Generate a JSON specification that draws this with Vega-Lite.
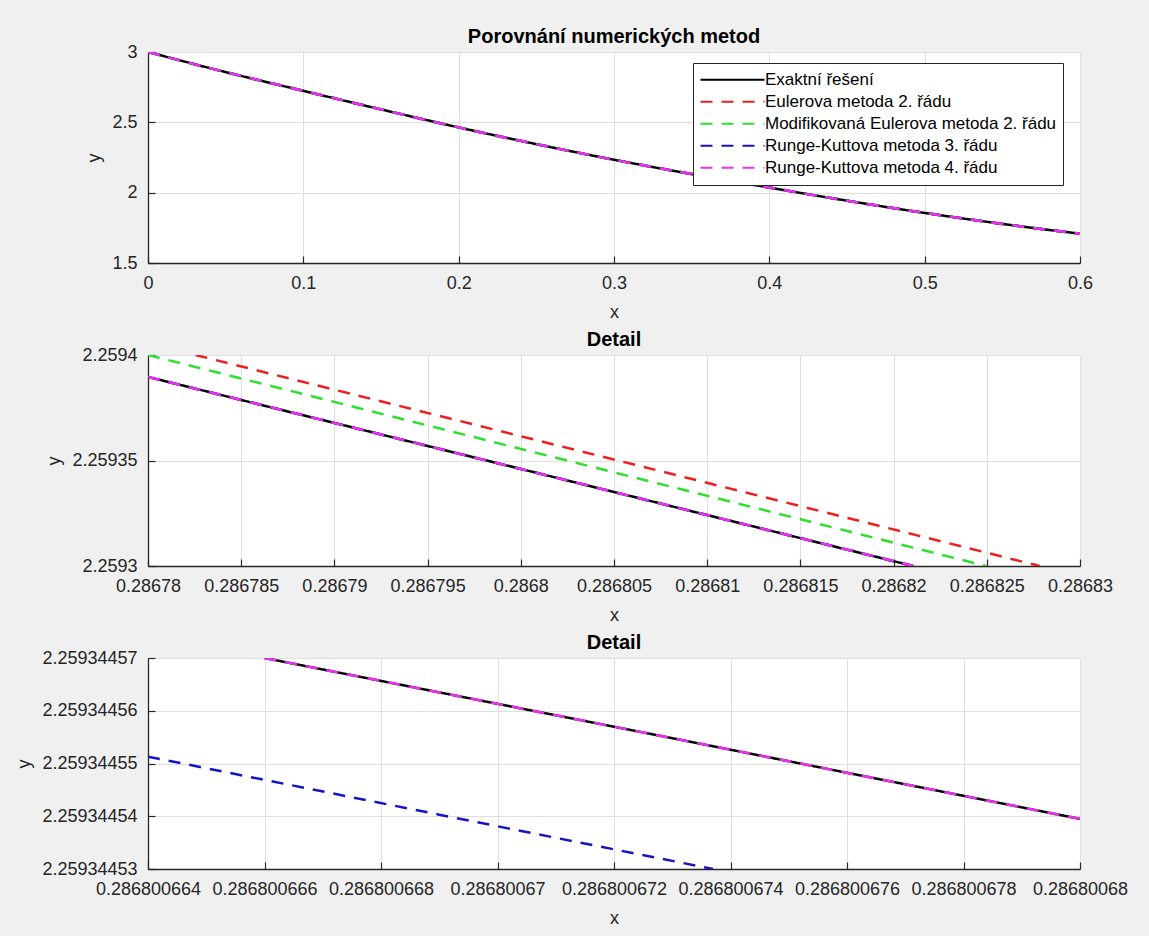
{
  "$schema": "https://vega.github.io/schema/vega-lite/v6.json",
  "background": "#f0f0f0",
  "padding": {"left": 15, "top": 27, "right": 25, "bottom": 14},
  "bounds": "flush",
  "spacing": 92,
  "datasets": {
    "p1": [
      {"x": 0, "y": 3.0, "metoda": "Exaktní řešení"},
      {"x": 0.05, "y": 2.857, "metoda": "Exaktní řešení"},
      {"x": 0.1, "y": 2.724, "metoda": "Exaktní řešení"},
      {"x": 0.15, "y": 2.592, "metoda": "Exaktní řešení"},
      {"x": 0.2, "y": 2.464, "metoda": "Exaktní řešení"},
      {"x": 0.25, "y": 2.345, "metoda": "Exaktní řešení"},
      {"x": 0.3, "y": 2.234, "metoda": "Exaktní řešení"},
      {"x": 0.35, "y": 2.132, "metoda": "Exaktní řešení"},
      {"x": 0.4, "y": 2.036, "metoda": "Exaktní řešení"},
      {"x": 0.45, "y": 1.943, "metoda": "Exaktní řešení"},
      {"x": 0.5, "y": 1.856, "metoda": "Exaktní řešení"},
      {"x": 0.55, "y": 1.778, "metoda": "Exaktní řešení"},
      {"x": 0.6, "y": 1.708, "metoda": "Exaktní řešení"},
      {"x": 0, "y": 3.0, "metoda": "Eulerova metoda 2. řádu"},
      {"x": 0.05, "y": 2.857, "metoda": "Eulerova metoda 2. řádu"},
      {"x": 0.1, "y": 2.724, "metoda": "Eulerova metoda 2. řádu"},
      {"x": 0.15, "y": 2.592, "metoda": "Eulerova metoda 2. řádu"},
      {"x": 0.2, "y": 2.464, "metoda": "Eulerova metoda 2. řádu"},
      {"x": 0.25, "y": 2.345, "metoda": "Eulerova metoda 2. řádu"},
      {"x": 0.3, "y": 2.234, "metoda": "Eulerova metoda 2. řádu"},
      {"x": 0.35, "y": 2.132, "metoda": "Eulerova metoda 2. řádu"},
      {"x": 0.4, "y": 2.036, "metoda": "Eulerova metoda 2. řádu"},
      {"x": 0.45, "y": 1.943, "metoda": "Eulerova metoda 2. řádu"},
      {"x": 0.5, "y": 1.856, "metoda": "Eulerova metoda 2. řádu"},
      {"x": 0.55, "y": 1.778, "metoda": "Eulerova metoda 2. řádu"},
      {"x": 0.6, "y": 1.708, "metoda": "Eulerova metoda 2. řádu"},
      {"x": 0, "y": 3.0, "metoda": "Modifikovaná Eulerova metoda 2. řádu"},
      {"x": 0.05, "y": 2.857, "metoda": "Modifikovaná Eulerova metoda 2. řádu"},
      {"x": 0.1, "y": 2.724, "metoda": "Modifikovaná Eulerova metoda 2. řádu"},
      {"x": 0.15, "y": 2.592, "metoda": "Modifikovaná Eulerova metoda 2. řádu"},
      {"x": 0.2, "y": 2.464, "metoda": "Modifikovaná Eulerova metoda 2. řádu"},
      {"x": 0.25, "y": 2.345, "metoda": "Modifikovaná Eulerova metoda 2. řádu"},
      {"x": 0.3, "y": 2.234, "metoda": "Modifikovaná Eulerova metoda 2. řádu"},
      {"x": 0.35, "y": 2.132, "metoda": "Modifikovaná Eulerova metoda 2. řádu"},
      {"x": 0.4, "y": 2.036, "metoda": "Modifikovaná Eulerova metoda 2. řádu"},
      {"x": 0.45, "y": 1.943, "metoda": "Modifikovaná Eulerova metoda 2. řádu"},
      {"x": 0.5, "y": 1.856, "metoda": "Modifikovaná Eulerova metoda 2. řádu"},
      {"x": 0.55, "y": 1.778, "metoda": "Modifikovaná Eulerova metoda 2. řádu"},
      {"x": 0.6, "y": 1.708, "metoda": "Modifikovaná Eulerova metoda 2. řádu"},
      {"x": 0, "y": 3.0, "metoda": "Runge-Kuttova metoda 3. řádu"},
      {"x": 0.05, "y": 2.857, "metoda": "Runge-Kuttova metoda 3. řádu"},
      {"x": 0.1, "y": 2.724, "metoda": "Runge-Kuttova metoda 3. řádu"},
      {"x": 0.15, "y": 2.592, "metoda": "Runge-Kuttova metoda 3. řádu"},
      {"x": 0.2, "y": 2.464, "metoda": "Runge-Kuttova metoda 3. řádu"},
      {"x": 0.25, "y": 2.345, "metoda": "Runge-Kuttova metoda 3. řádu"},
      {"x": 0.3, "y": 2.234, "metoda": "Runge-Kuttova metoda 3. řádu"},
      {"x": 0.35, "y": 2.132, "metoda": "Runge-Kuttova metoda 3. řádu"},
      {"x": 0.4, "y": 2.036, "metoda": "Runge-Kuttova metoda 3. řádu"},
      {"x": 0.45, "y": 1.943, "metoda": "Runge-Kuttova metoda 3. řádu"},
      {"x": 0.5, "y": 1.856, "metoda": "Runge-Kuttova metoda 3. řádu"},
      {"x": 0.55, "y": 1.778, "metoda": "Runge-Kuttova metoda 3. řádu"},
      {"x": 0.6, "y": 1.708, "metoda": "Runge-Kuttova metoda 3. řádu"},
      {"x": 0, "y": 3.0, "metoda": "Runge-Kuttova metoda 4. řádu"},
      {"x": 0.05, "y": 2.857, "metoda": "Runge-Kuttova metoda 4. řádu"},
      {"x": 0.1, "y": 2.724, "metoda": "Runge-Kuttova metoda 4. řádu"},
      {"x": 0.15, "y": 2.592, "metoda": "Runge-Kuttova metoda 4. řádu"},
      {"x": 0.2, "y": 2.464, "metoda": "Runge-Kuttova metoda 4. řádu"},
      {"x": 0.25, "y": 2.345, "metoda": "Runge-Kuttova metoda 4. řádu"},
      {"x": 0.3, "y": 2.234, "metoda": "Runge-Kuttova metoda 4. řádu"},
      {"x": 0.35, "y": 2.132, "metoda": "Runge-Kuttova metoda 4. řádu"},
      {"x": 0.4, "y": 2.036, "metoda": "Runge-Kuttova metoda 4. řádu"},
      {"x": 0.45, "y": 1.943, "metoda": "Runge-Kuttova metoda 4. řádu"},
      {"x": 0.5, "y": 1.856, "metoda": "Runge-Kuttova metoda 4. řádu"},
      {"x": 0.55, "y": 1.778, "metoda": "Runge-Kuttova metoda 4. řádu"},
      {"x": 0.6, "y": 1.708, "metoda": "Runge-Kuttova metoda 4. řádu"}
    ],
    "p2": [
      {"x": 0.28678, "y": 2.2593896, "metoda": "Exaktní řešení"},
      {"x": 0.2868, "y": 2.259346, "metoda": "Exaktní řešení"},
      {"x": 0.28682105, "y": 2.2593, "metoda": "Exaktní řešení"},
      {"x": 0.28678255, "y": 2.2594, "metoda": "Eulerova metoda 2. řádu"},
      {"x": 0.2868, "y": 2.2593615, "metoda": "Eulerova metoda 2. řádu"},
      {"x": 0.28682784, "y": 2.2593, "metoda": "Eulerova metoda 2. řádu"},
      {"x": 0.28678, "y": 2.2594, "metoda": "Modifikovaná Eulerova metoda 2. řádu"},
      {"x": 0.2868, "y": 2.2593555, "metoda": "Modifikovaná Eulerova metoda 2. řádu"},
      {"x": 0.28682497, "y": 2.2593, "metoda": "Modifikovaná Eulerova metoda 2. řádu"},
      {"x": 0.28678, "y": 2.25938958, "metoda": "Runge-Kuttova metoda 3. řádu"},
      {"x": 0.2868, "y": 2.25934598, "metoda": "Runge-Kuttova metoda 3. řádu"},
      {"x": 0.28682105, "y": 2.25929998, "metoda": "Runge-Kuttova metoda 3. řádu"},
      {"x": 0.28678, "y": 2.2593896, "metoda": "Runge-Kuttova metoda 4. řádu"},
      {"x": 0.2868, "y": 2.259346, "metoda": "Runge-Kuttova metoda 4. řádu"},
      {"x": 0.28682105, "y": 2.2593, "metoda": "Runge-Kuttova metoda 4. řádu"}
    ],
    "p3": [
      {"x": 0.286800666, "y": 2.25934457, "metoda": "Exaktní řešení"},
      {"x": 0.286800673, "y": 2.2593445548, "metoda": "Exaktní řešení"},
      {"x": 0.28680068, "y": 2.2593445395, "metoda": "Exaktní řešení"},
      {"x": 0.286800664, "y": 2.2593445513, "metoda": "Runge-Kuttova metoda 3. řádu"},
      {"x": 0.286800669, "y": 2.2593445403, "metoda": "Runge-Kuttova metoda 3. řádu"},
      {"x": 0.2868006737, "y": 2.25934453, "metoda": "Runge-Kuttova metoda 3. řádu"},
      {"x": 0.286800666, "y": 2.25934457, "metoda": "Runge-Kuttova metoda 4. řádu"},
      {"x": 0.286800673, "y": 2.2593445548, "metoda": "Runge-Kuttova metoda 4. řádu"},
      {"x": 0.28680068, "y": 2.2593445395, "metoda": "Runge-Kuttova metoda 4. řádu"}
    ]
  },
  "vconcat": [
    {
      "title": "Porovnání numerických metod",
      "width": 932,
      "height": 211,
      "data": {"name": "p1"},
      "mark": {"type": "line", "strokeWidth": 2.5, "clip": true, "interpolate": "monotone", "strokeCap": "butt"},
      "encoding": {
        "x": {"field": "x", "type": "quantitative", "title": "x",
              "scale": {"domain": [0, 0.6], "nice": false, "zero": false},
              "axis": {"values": [0, 0.1, 0.2, 0.3, 0.4, 0.5, 0.6], "format": ".6~r"}},
        "y": {"field": "y", "type": "quantitative", "title": "y",
              "scale": {"domain": [1.5, 3], "nice": false, "zero": false},
              "axis": {"values": [1.5, 2, 2.5, 3], "format": ".6~r"}},
        "color": {"field": "metoda", "type": "nominal",
                  "scale": {"domain": ["Exaktní řešení", "Eulerova metoda 2. řádu", "Modifikovaná Eulerova metoda 2. řádu", "Runge-Kuttova metoda 3. řádu", "Runge-Kuttova metoda 4. řádu"],
                            "range": ["#000000", "#f01e1e", "#2ee02e", "#1414c8", "#ee30ee"]},
                  "legend": {"title": null, "orient": "none", "legendX": 545, "legendY": 11, "symbolType": "stroke", "symbolSize": 4096, "symbolStrokeWidth": 2.2, "clipHeight": 21.5, "rowPadding": 0, "labelOffset": -1, "padding": 6, "strokeColor": "#262626", "fillColor": "#ffffff", "labelFontSize": 17, "labelFont": "Liberation Sans", "labelColor": "#000000", "labelLimit": 0}},
        "strokeDash": {"field": "metoda", "type": "nominal",
                  "scale": {"domain": ["Exaktní řešení", "Eulerova metoda 2. řádu", "Modifikovaná Eulerova metoda 2. řádu", "Runge-Kuttova metoda 3. řádu", "Runge-Kuttova metoda 4. řádu"],
                            "range": [[1, 0], [12, 9], [12, 9], [12, 9], [12, 9]]},
                  "legend": {"title": null, "orient": "none", "legendX": 545, "legendY": 11, "symbolType": "stroke", "symbolSize": 4096, "symbolStrokeWidth": 2.2, "clipHeight": 21.5, "rowPadding": 0, "labelOffset": -1, "padding": 6, "strokeColor": "#262626", "fillColor": "#ffffff", "labelFontSize": 17, "labelFont": "Liberation Sans", "labelColor": "#000000", "labelLimit": 0}}
      }
    },
    {
      "title": "Detail",
      "width": 932,
      "height": 211,
      "data": {"name": "p2"},
      "mark": {"type": "line", "strokeWidth": 2.5, "clip": true, "strokeCap": "butt"},
      "encoding": {
        "x": {"field": "x", "type": "quantitative", "title": "x",
              "scale": {"domain": [0.28678, 0.28683], "nice": false, "zero": false},
              "axis": {"values": [0.28678, 0.286785, 0.28679, 0.286795, 0.2868, 0.286805, 0.28681, 0.286815, 0.28682, 0.286825, 0.28683], "format": ".6~r"}},
        "y": {"field": "y", "type": "quantitative", "title": "y",
              "scale": {"domain": [2.2593, 2.2594], "nice": false, "zero": false},
              "axis": {"values": [2.2593, 2.25935, 2.2594], "format": ".6~r"}},
        "color": {"field": "metoda", "type": "nominal", "legend": null,
                  "scale": {"domain": ["Exaktní řešení", "Eulerova metoda 2. řádu", "Modifikovaná Eulerova metoda 2. řádu", "Runge-Kuttova metoda 3. řádu", "Runge-Kuttova metoda 4. řádu"],
                            "range": ["#000000", "#f01e1e", "#2ee02e", "#1414c8", "#ee30ee"]}},
        "strokeDash": {"field": "metoda", "type": "nominal", "legend": null,
                  "scale": {"domain": ["Exaktní řešení", "Eulerova metoda 2. řádu", "Modifikovaná Eulerova metoda 2. řádu", "Runge-Kuttova metoda 3. řádu", "Runge-Kuttova metoda 4. řádu"],
                            "range": [[1, 0], [12, 9], [12, 9], [12, 9], [12, 9]]}}
      }
    },
    {
      "title": "Detail",
      "width": 932,
      "height": 211,
      "data": {"name": "p3"},
      "mark": {"type": "line", "strokeWidth": 2.5, "clip": true, "strokeCap": "butt"},
      "encoding": {
        "x": {"field": "x", "type": "quantitative", "title": "x",
              "scale": {"domain": [0.286800664, 0.28680068], "nice": false, "zero": false},
              "axis": {"values": [0.286800664, 0.286800666, 0.286800668, 0.28680067, 0.286800672, 0.286800674, 0.286800676, 0.286800678, 0.28680068], "format": ".9~r"}},
        "y": {"field": "y", "type": "quantitative", "title": "y",
              "scale": {"domain": [2.25934453, 2.25934457], "nice": false, "zero": false},
              "axis": {"values": [2.25934453, 2.25934454, 2.25934455, 2.25934456, 2.25934457], "format": ".9~r"}},
        "color": {"field": "metoda", "type": "nominal", "legend": null,
                  "scale": {"domain": ["Exaktní řešení", "Eulerova metoda 2. řádu", "Modifikovaná Eulerova metoda 2. řádu", "Runge-Kuttova metoda 3. řádu", "Runge-Kuttova metoda 4. řádu"],
                            "range": ["#000000", "#f01e1e", "#2ee02e", "#1414c8", "#ee30ee"]}},
        "strokeDash": {"field": "metoda", "type": "nominal", "legend": null,
                  "scale": {"domain": ["Exaktní řešení", "Eulerova metoda 2. řádu", "Modifikovaná Eulerova metoda 2. řádu", "Runge-Kuttova metoda 3. řádu", "Runge-Kuttova metoda 4. řádu"],
                            "range": [[1, 0], [12, 9], [12, 9], [12, 9], [12, 9]]}}
      }
    }
  ],
  "resolve": {
    "scale": {"color": "independent", "strokeDash": "independent", "x": "independent", "y": "independent"},
    "legend": {"color": "independent", "strokeDash": "independent"},
    "axis": {"x": "independent", "y": "independent"}
  },
  "config": {
    "font": "Liberation Sans",
    "view": {"stroke": null, "fill": "#ffffff"},
    "title": {"font": "Liberation Sans", "fontSize": 20, "fontWeight": "bold", "color": "#000000", "anchor": "middle", "offset": -4},
    "axis": {
      "labelFont": "Liberation Sans", "labelFontSize": 18, "labelColor": "#262626",
      "titleFont": "Liberation Sans", "titleFontSize": 18, "titleFontWeight": "normal", "titleColor": "#262626",
      "domainColor": "#262626", "domainWidth": 1.3, "tickColor": "#262626", "tickWidth": 1.2, "tickSize": -7,
      "labelPadding": 18, "labelFlush": false, "labelOverlap": false, "labelBound": false,
      "grid": true, "gridColor": "#dfdfdf", "gridWidth": 1, "titlePadding": 8
    },
    "axisX": {"titlePadding": 11}
  }
}
